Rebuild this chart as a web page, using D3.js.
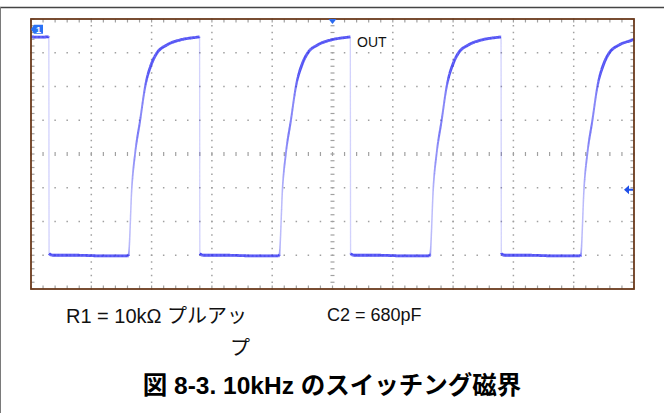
<!DOCTYPE html>
<html><head><meta charset="utf-8">
<script src="https://cdn.jsdelivr.net/npm/d3@7/dist/d3.min.js"></script>
<style>html,body{margin:0;padding:0;background:#fff;}svg{display:block;}</style>
</head><body>
<svg id="c" width="664" height="413"></svg>
<script>
// ---- data (time in µs, 40 µs/div; level in divisions) ----
const xDivisions = [0,1,2,3,4,5,6,7,8,9,10];
const yDivisions = [-4,-3,-2,-1,0,1,2,3,4];
const traceTime = [
  0, 6, 11.8, 12, 14, 30, 48, 64.5,
  64.7, 66.9, 69.1, 72.4, 75.7, 80.2, 83.5, 90.1, 99.0, 110.1, 111.8,
  112, 114, 130, 148, 164.5,
  164.7, 166.9, 169.1, 172.4, 175.7, 180.2, 183.5, 190.1, 199.0, 210.1, 211.8,
  212, 214, 230, 248, 264.5,
  264.7, 266.9, 269.1, 272.4, 275.7, 280.2, 283.5, 290.1, 299.0, 310.1, 311.8,
  312, 314, 330, 348, 364.5,
  364.7, 366.9, 369.1, 372.4, 375.7, 380.2, 383.5, 390.1, 399.0, 400
];
const traceLevel = [
  3.47, 3.46, 3.47, -2.95, -3.0, -3.0, -3.02, -3.02,
  -3.0, -0.98, 0.03, 1.0, 1.99, 2.70, 2.99, 3.23, 3.38, 3.46, 3.47,
  -2.95, -3.0, -3.0, -3.02, -3.02,
  -3.0, -0.98, 0.03, 1.0, 1.99, 2.70, 2.99, 3.23, 3.38, 3.46, 3.47,
  -2.95, -3.0, -3.0, -3.02, -3.02,
  -3.0, -0.98, 0.03, 1.0, 1.99, 2.70, 2.99, 3.23, 3.38, 3.46, 3.47,
  -2.95, -3.0, -3.0, -3.02, -3.02,
  -3.0, -0.98, 0.03, 1.0, 1.99, 2.70, 2.99, 3.23, 3.38, 3.40
];
const traceLabel = "OUT";
const noteR1 = ["R1 = 10kΩ プルアッ", "プ"];
const noteC2 = "C2 = 680pF";
const title = "図 8-3. 10kHz のスイッチング磁界";

// ---- layout ----
const svg = d3.select("#c");
const X0 = 31, X1 = 634, Y0 = 19, Y1 = 289;
const x = d3.scaleLinear().domain([0, 400]).range([X0, X1]);
const y = d3.scaleLinear().domain([-4, 4]).range([Y1, Y0]);
const xd = d => x(d * 40);

// outer figure frame
svg.append("line").attr("x1",0).attr("x2",664).attr("y1",7.5).attr("y2",7.5).attr("stroke","#444").attr("stroke-width",1.5);
svg.append("line").attr("x1",0.5).attr("x2",0.5).attr("y1",7).attr("y2",413).attr("stroke","#7a7a7a").attr("stroke-width",1);

const g = svg.append("g");
const dotC = "#a0a0a0";
const minorY = d3.range(0, 41).map(j => -4 + j * 0.2);
const minorX = d3.range(0, 51).map(j => j * 0.2);
xDivisions.slice(1, -1).forEach(k => {
  if (k === 5) return;
  g.selectAll(null).data(minorY).join("rect")
    .attr("x", xd(k) - 0.75).attr("y", d => y(d) - 0.75).attr("width", 1.5).attr("height", 1.5).attr("fill", dotC);
});
yDivisions.slice(1, -1).forEach(m => {
  if (m === 0) return;
  g.selectAll(null).data(minorX).join("rect")
    .attr("x", d => xd(d) - 0.75).attr("y", y(m) - 0.75).attr("width", 1.5).attr("height", 1.5).attr("fill", dotC);
});
g.selectAll(null).data(minorY).join("line")
  .attr("x1", xd(5) - 2).attr("x2", xd(5) + 2).attr("y1", d => y(d)).attr("y2", d => y(d))
  .attr("stroke", dotC).attr("stroke-width", 1.2);
g.selectAll(null).data(minorX).join("line")
  .attr("x1", d => xd(d)).attr("x2", d => xd(d)).attr("y1", y(0) - 2).attr("y2", y(0) + 2)
  .attr("stroke", dotC).attr("stroke-width", 1.2);
g.selectAll(null).data(minorY).join("line")
  .attr("x1", X0).attr("x2", X0 + 3.5).attr("y1", d => y(d)).attr("y2", d => y(d)).attr("stroke", dotC).attr("stroke-width", 1.2);
g.selectAll(null).data(minorY).join("line")
  .attr("x1", X1 - 3.5).attr("x2", X1).attr("y1", d => y(d)).attr("y2", d => y(d)).attr("stroke", dotC).attr("stroke-width", 1.2);
g.selectAll(null).data(minorX).join("line")
  .attr("x1", d => xd(d)).attr("x2", d => xd(d)).attr("y1", Y0).attr("y2", Y0 + 3.5).attr("stroke", dotC).attr("stroke-width", 1.2);
g.selectAll(null).data(minorX).join("line")
  .attr("x1", d => xd(d)).attr("x2", d => xd(d)).attr("y1", Y1 - 3.5).attr("y2", Y1).attr("stroke", dotC).attr("stroke-width", 1.2);

// trace: smooth monotone curve through the read points, drawn with
// scope-like intensity (bright where the beam moves slowly horizontally)
const pts = traceTime.map((t, i) => [x(t), y(traceLevel[i])]);
const lineGen = d3.line().curve(d3.curveMonotoneX);
const tmp = svg.append("path").attr("d", lineGen(pts)).attr("fill", "none").attr("stroke", "none");
const node = tmp.node();
const L = node.getTotalLength();
const step = 0.8;
const samples = d3.range(0, L + step, step).map(s => { const p = node.getPointAtLength(Math.min(s, L)); return [p.x, p.y]; });
tmp.remove();
const segs = d3.pairs(samples);
const tg = svg.append("g").attr("stroke-linecap", "butt");
tg.selectAll("line").data(segs).join("line")
  .attr("x1", d => d[0][0]).attr("y1", d => d[0][1])
  .attr("x2", d => d[1][0]).attr("y2", d => d[1][1])
  .attr("stroke", "#3232f2")
  .each(function(d) {
    const dx = Math.abs(d[1][0] - d[0][0]), dy = Math.abs(d[1][1] - d[0][1]);
    const w = dx / (Math.hypot(dx, dy) || 1);
    d3.select(this)
      .attr("stroke-opacity", Math.min(1, 0.22 + 3.2 * w))
      .attr("stroke-width", 1.3 + 1.5 * Math.min(1, 3 * w));
  });

// frame
svg.append("rect").attr("x", X0).attr("y", Y0).attr("width", X1 - X0).attr("height", Y1 - Y0)
  .attr("fill", "none").attr("stroke", "#6b3a1c").attr("stroke-width", 1.8);

// markers
svg.append("path").attr("d", `M${X0},${y(3.7)} L${X0+3},${y(3.7)-4.5} L${X0+12},${y(3.7)-4.5} L${X0+12},${y(3.7)+4.5} L${X0+3},${y(3.7)+4.5}Z`)
  .attr("fill", "#2a72f5");
svg.append("text").attr("x", X0 + 7.5).attr("y", y(3.7) + 3.5).attr("text-anchor", "middle")
  .attr("font-family", "Liberation Sans, Arial").attr("font-weight", "bold").attr("font-size", 9).attr("fill", "#fff").text("1");
svg.append("path").attr("d", `M${xd(5)-4},${Y0} L${xd(5)+4},${Y0} L${xd(5)},${Y0+5}Z`).attr("fill", "#2a6af0");
const ay = y(-1.06);
svg.append("path").attr("d", `M${X1-10},${ay} L${X1-5},${ay-4.5} L${X1-5},${ay+4.5}Z M${X1-5},${ay-1} L${X1-1},${ay-1} L${X1-1},${ay+1} L${X1-5},${ay+1}Z`).attr("fill", "#2050e8");

// texts
svg.append("text").attr("x", 357).attr("y", 47).attr("font-family", "Liberation Sans, Arial").attr("font-size", 14).attr("fill", "#111").text(traceLabel);
svg.append("text").attr("x", 66).attr("y", 323).attr("font-family", "Liberation Sans, Arial, 'Noto Sans CJK JP'").attr("font-size", 20).attr("fill", "#111").text(noteR1[0]);
svg.append("text").attr("x", 250).attr("y", 355).attr("text-anchor", "end").attr("font-family", "Liberation Sans, Arial, 'Noto Sans CJK JP'").attr("font-size", 20).attr("fill", "#111").text(noteR1[1]);
svg.append("text").attr("x", 327).attr("y", 321).attr("font-family", "Liberation Sans, Arial").attr("font-size", 18).attr("fill", "#111").text(noteC2);
svg.append("text").attr("x", 332).attr("y", 394).attr("text-anchor", "middle").attr("font-family", "Liberation Sans, Arial, 'Noto Sans CJK JP'").attr("font-weight", "bold").attr("font-size", 24.5).attr("fill", "#000").text(title);
</script>
</body></html>
